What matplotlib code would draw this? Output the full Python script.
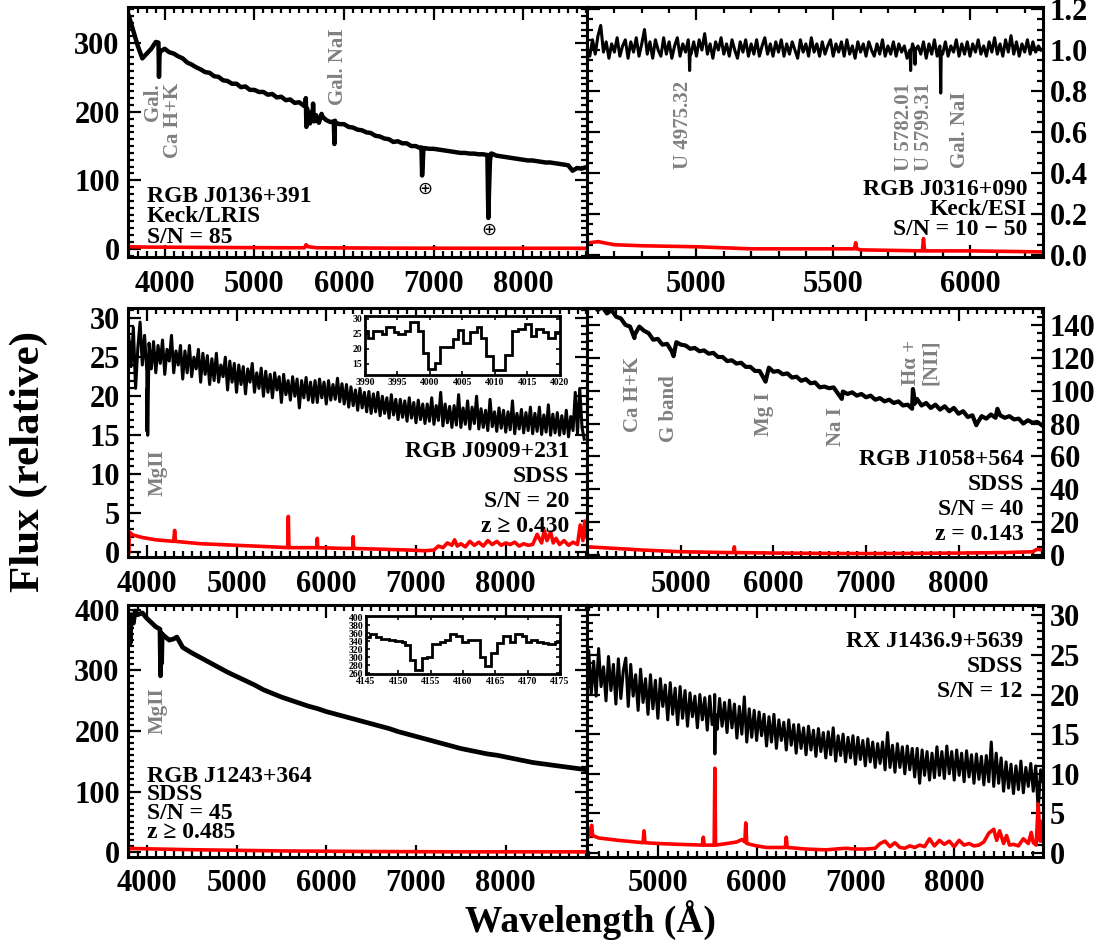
import numpy as np
import matplotlib
matplotlib.use("Agg")
from matplotlib import pyplot as plt
from matplotlib.ticker import MultipleLocator, FixedLocator, FormatStrFormatter

plt.rcParams['font.family'] = ['Liberation Serif', 'DejaVu Sans']
plt.rcParams['font.weight'] = 'bold'
plt.rcParams['font.size'] = 22
plt.rcParams['axes.linewidth'] = 2.2

GRAY = '#808080'

# ---- RGB J0136+391 (Keck/LRIS) ----
a_wave = np.arange(3600, 8701, 50)
a_flux = [340, 318, 296, 278, 285, 292, 302, 288, 292, 287,
          285, 281, 278, 272, 269, 265, 262, 258, 257, 252,
          251, 246, 245, 241, 241, 236, 237, 232, 232, 229,
          229, 225, 226, 221, 222, 217, 218, 213, 214, 209,
          192, 196, 187, 197, 188, 185, 187, 182, 182, 178,
          177, 174, 173, 170, 169, 165, 164, 161, 160, 156,
          157, 154, 154, 150, 150, 147, 147, 146, 146, 145,
          144, 143, 142, 141, 140, 140, 139, 139, 138, 138,
          137, 139, 136, 135, 134, 133, 132, 131, 130, 129,
          129, 128, 127, 126, 126, 125, 124, 123, 122, 114,
          118, 117, 119]
a_feat_wave = [3930, 3936, 3942, 5568, 5574, 5580, 5588, 5620, 5640, 5655, 5665,
               5690, 5720, 5760, 5886, 5893, 5900, 6864, 6871, 6878, 6886,
               7592, 7603, 7610, 7618, 7628, 7640]
a_feat_flux = [301, 251, 282, 210, 220, 178, 205, 183, 200, 212, 186,
               195, 184, 193, 186, 153, 184, 148, 107, 122, 147,
               137, 105, 45, 85, 128, 139]
a_err_wave = [3600, 3800, 4500, 5400, 5560, 5577, 5600, 5700, 6500, 7500, 8700]
a_err_flux = [3, 2.5, 2, 1.5, 1.5, 6, 3, 1.5, 1, 0.8, 0.8]

# ---- RGB J0316+090 (Keck/ESI) ----
b_wave = np.arange(4600, 6261, 10)
b_flux = [1.01, 0.97, 1.05, 0.98, 1.07, 1.12, 0.99, 1.04, 0.96, 1.03,
          0.99, 1.06, 0.97, 1.02, 1.05, 0.96, 1.04, 0.99, 1.06, 0.97,
          1.03, 1.10, 0.98, 1.04, 0.96, 1.05, 1.00, 0.97, 1.06, 0.98,
          1.04, 0.96, 1.02, 1.06, 0.97, 1.03, 0.99, 1.05, 0.98, 1.04,
          0.97, 1.05, 1.00, 1.08, 0.98, 1.03, 0.96, 1.04, 1.00, 1.06,
          0.98, 1.03, 0.97, 1.05, 1.00, 0.96, 1.04, 0.99, 1.05, 0.97,
          1.03, 0.98, 1.05, 0.97, 1.02, 1.06, 0.98, 1.03, 0.97, 1.04,
          0.99, 1.05, 0.97, 1.03, 0.98, 1.04, 1.00, 0.96, 1.05, 0.99,
          1.03, 0.97, 1.06, 0.99, 1.03, 0.97, 1.04, 0.98, 1.02, 1.05,
          0.97, 1.03, 0.99, 1.04, 0.97, 1.05, 0.98, 1.02, 0.96, 1.04,
          0.99, 1.03, 0.97, 1.04, 1.00, 0.97, 1.03, 0.98, 1.05, 0.97,
          1.02, 0.98, 1.04, 0.97, 1.03, 0.99, 1.02, 0.96, 1.00, 1.03,
          0.97, 1.02, 0.98, 1.04, 0.96, 1.03, 0.98, 1.05, 0.97, 1.02,
          0.98, 1.04, 0.97, 1.02, 0.99, 1.05, 0.97, 1.03, 0.98, 1.04,
          0.97, 1.03, 0.99, 1.05, 0.98, 1.02, 0.97, 1.04, 0.99, 1.06,
          0.98, 1.03, 0.97, 1.05, 0.99, 1.07, 0.98, 1.04, 0.97, 1.03,
          0.99, 1.05, 0.98, 1.04, 0.99, 1.02, 1.00]
b_feat_wave = [4973, 4975, 4977, 5781, 5783, 5785, 5797, 5799, 5801, 5891, 5893, 5895]
b_feat_flux = [1.00, 0.90, 0.99, 1.00, 0.90, 0.99, 1.00, 0.93, 1.00, 0.99, 0.79, 0.99]
b_err_wave = [4610, 4640, 4660, 4700, 4800, 5000, 5200, 5400, 5578, 5582, 5586,
              5600, 5826, 5830, 5834, 6000, 6267]
b_err_flux = [0.06, 0.065, 0.06, 0.05, 0.045, 0.04, 0.03, 0.03, 0.03, 0.06, 0.03,
              0.025, 0.02, 0.08, 0.02, 0.02, 0.015]

# ---- RGB J0909+231 (SDSS) ----
c_wave = np.arange(3800, 8876, 25)
c_flux = [27.5, 23.8, 28.8, 21.0, 26.2, 29.5, 24.0, 27.8, 23.2, 26.8, 23.5, 27.0,
          23.0, 26.5, 24.2, 27.2, 22.8, 26.0, 24.5, 27.8, 23.0, 25.8, 24.0, 26.5,
          22.2, 25.8, 23.0, 26.5, 22.5, 25.0, 23.5, 26.0, 21.8, 25.5, 22.8, 25.2,
          21.5, 24.8, 22.0, 25.5, 21.8, 24.0, 22.5, 25.0, 20.8, 24.5, 21.8, 24.2,
          20.5, 24.0, 21.5, 23.8, 20.3, 23.5, 21.8, 24.2, 20.5, 23.0, 21.0, 23.6,
          20.0, 23.2, 20.5, 22.8, 19.8, 23.0, 20.8, 22.5, 19.2, 22.8, 20.2, 22.0,
          19.5, 22.5, 20.0, 22.2, 18.5, 22.0, 19.8, 22.4, 19.5, 21.8, 19.2, 22.0,
          19.2, 22.2, 19.8, 21.8, 19.0, 22.0, 19.5, 21.5, 19.6, 22.3, 19.3, 21.6,
          19.0, 21.5, 18.6, 21.2, 18.8, 20.8, 18.2, 21.0, 18.5, 20.5, 18.0, 20.6,
          17.8, 20.3, 18.0, 20.5, 17.5, 20.0, 17.8, 19.8, 17.2, 20.2, 17.6, 19.6,
          17.0, 19.6, 17.3, 19.4, 16.8, 19.8, 17.2, 19.2, 16.6, 19.5, 17.0, 19.0,
          16.5, 19.0, 16.8, 19.8, 16.4, 18.8, 16.9, 20.5, 16.2, 19.0, 16.6, 18.7,
          16.0, 18.8, 16.3, 20.2, 16.0, 18.5, 16.4, 19.4, 15.8, 18.6, 16.5, 20.0,
          15.8, 18.4, 16.0, 18.2, 15.6, 19.6, 16.1, 18.0, 15.5, 18.5, 15.9, 18.2,
          15.4, 18.0, 15.7, 19.4, 15.2, 17.8, 15.8, 18.3, 15.3, 17.9, 15.6, 18.6,
          15.2, 17.8, 15.5, 18.6, 15.1, 17.6, 15.4, 18.9, 15.0, 17.7, 15.3, 17.9,
          15.0, 17.5, 15.2, 18.2, 14.8, 17.4, 15.6, 20.5, 15.2, 21.0, 16.0, 14.5]
c_feat_wave = [4002, 4006, 4010]
c_feat_flux = [15.5, 21.0, 15.0]
c_err_wave = [3800, 3805, 3850, 3950, 4100, 4300, 4310, 4320, 4600, 5000,
              5400, 5570, 5577, 5584, 5800, 5895, 5900, 5905, 6200, 6295,
              6300, 6305, 6600, 6900, 7100, 7200, 7250, 7300, 7350, 7400,
              7430, 7460, 7500, 7550, 7600, 7650, 7700, 7750, 7800, 7850,
              7900, 7950, 8000, 8050, 8100, 8150, 8200, 8250, 8300, 8350,
              8400, 8430, 8460, 8500, 8530, 8560, 8600, 8650, 8700, 8750,
              8800, 8830, 8860, 8880, 8900]
c_err_flux = [0, 2.6, 2.2, 1.9, 1.6, 1.4, 2.8, 1.4, 1.1, 0.9,
              0.7, 0.6, 4.6, 0.6, 0.6, 0.6, 1.8, 0.6, 0.5, 0.5,
              2.0, 0.5, 0.4, 0.3, 0.2, 0.3, 0.8, 0.6, 1.2, 0.9,
              1.6, 0.8, 1.1, 0.7, 1.4, 0.9, 1.3, 0.8, 1.5, 1.0,
              1.4, 0.9, 1.2, 1.0, 1.3, 0.8, 1.1, 0.9, 1.0, 2.3,
              1.2, 2.8, 1.5, 2.6, 1.2, 1.8, 1.0, 1.5, 0.9, 1.3,
              1.0, 3.5, 1.5, 4.0, 2.0]
# inset: MgII doublet
c_ins_edges = [3990.0, 3990.5, 3991.3, 3992.6, 3993.3, 3994.4, 3995.1, 3996.2, 3997.0,
               3998.1, 3998.9, 3999.7, 4000.8, 4001.5, 4002.6, 4003.6, 4004.4, 4005.1,
               4006.2, 4007.2, 4007.9, 4008.7, 4009.7, 4010.7, 4011.5, 4012.6, 4013.6,
               4014.6, 4015.6, 4016.4, 4017.4, 4018.2, 4019.2, 4020.0]
c_ins_flux = [25.9, 23.6, 25.9, 25.1, 27.3, 25.5, 25.1, 25.9, 29.0, 25.9, 18.8,
              13.2, 15.4, 20.6, 20.8, 23.3, 26.2, 21.9, 25.5, 27.3, 23.6, 17.7,
              13.0, 13.0, 18.0, 25.9, 26.6, 28.4, 24.4, 26.6, 25.5, 23.8, 25.5]

# ---- RGB J1058+564 (SDSS) ----
d_wave = np.arange(4000, 8901, 50)
d_flux = [151, 153, 149, 151, 147, 149, 145, 144, 140, 139,
          134, 139, 136.5, 135, 131, 131.5, 128, 128.5, 124, 129.5,
          128, 127.5, 125.5, 126, 124, 124.5, 122.5, 123, 120.5, 120.5,
          118, 118.5, 116.5, 117, 114.5, 114.5, 112, 112, 107, 114,
          111.5, 112, 110, 110.5, 108, 108.5, 106, 107, 104.5, 105,
          102, 102.5, 101.5, 102, 98, 99.5, 98, 99, 97, 98,
          96, 97, 94.5, 95.5, 93.5, 94.5, 92.5, 93.5, 91, 91.5,
          92, 95, 91, 92.5, 89.5, 91.5, 88.5, 90.5, 87.5, 89.5,
          86, 87.5, 84, 85, 80, 84.5, 83, 85.5, 83.5, 85,
          83.5, 84.5, 82.5, 83, 80, 82, 80.5, 81, 79]
d_feat_wave = [4497, 4920, 5914, 6738, 7498, 7507, 7516, 7526, 8192, 8420]
d_feat_flux = [132, 121, 105.5, 95, 89, 101, 98, 92, 79, 89]
d_err_wave = [3985, 4300, 4600, 5000, 5500, 5570, 5577, 5584, 6000, 6500, 7000,
              7500, 8000, 8500, 8800, 8850, 8913]
d_err_flux = [5, 4, 3, 2, 1.5, 1.5, 5, 1.5, 1.2, 1.0, 0.9, 1.0, 1.2, 1.5, 2.0, 3.5, 3.0]

# ---- RGB J1243+364 (SDSS) ----
e_wave = np.arange(3800, 8901, 100)
e_flux = [382, 392, 386, 372, 356, 352, 338, 329, 321, 313,
          305, 297, 290, 283, 276, 268, 262, 256, 251, 246,
          241, 237, 232, 228, 224, 220, 216, 212, 208, 204,
          199, 195, 191, 187, 183, 179, 175, 171, 168, 165,
          162, 160, 157, 154, 151, 148, 146, 144, 142, 140,
          138, 136]
e_feat_wave = [3815, 3825, 3850, 3870, 3950, 4147, 4153, 4159, 4165, 4171, 4250, 4335]
e_feat_flux = [345, 392, 378, 398, 395, 368, 291, 362, 312, 360, 350, 355]
e_err_wave = [3795, 3800, 3830, 4500, 5500, 6500, 7500, 8905]
e_err_flux = [0, 8, 6, 4, 2, 1, 0.5, 0.5]
# inset: MgII doublet
e_ins_edges = [4145.0, 4145.6, 4146.6, 4147.4, 4148.5, 4149.5, 4150.5, 4151.0, 4151.8,
               4152.6, 4153.6, 4154.4, 4155.2, 4156.4, 4157.2, 4158.0, 4159.0, 4159.8,
               4160.8, 4161.6, 4162.6, 4163.4, 4164.4, 4165.2, 4166.2, 4167.3, 4168.0,
               4169.1, 4169.8, 4170.6, 4171.4, 4172.4, 4173.2, 4174.2, 4175.0]
e_ins_flux = [350, 358, 350, 346, 342, 340, 338, 330, 293, 268, 298, 300, 334, 338,
              344, 358, 352, 339, 342, 342, 300, 278, 310, 336, 354, 338, 358, 352,
              339, 344, 338, 335, 332, 338]

# ---- RX J1436.9+5639 (SDSS) ----
f_wave = np.arange(4300, 8901, 25)
f_flux = [25.5, 20.0, 24.2, 19.8, 25.8, 21.0, 23.5, 19.2, 24.8, 20.5, 23.8, 18.8,
          24.5, 19.5, 23.0, 24.6, 18.5, 23.8, 19.8, 22.5, 18.0, 23.2, 19.0, 22.0,
          17.5, 22.5, 18.2, 21.8, 17.0, 22.0, 18.5, 21.2, 16.8, 21.5, 17.5, 20.8,
          16.2, 21.0, 17.0, 20.5, 16.0, 20.2, 17.2, 19.8, 15.8, 20.0, 16.8, 19.6,
          15.5, 19.8, 16.2, 20.0, 15.6, 19.5, 16.0, 19.0, 15.2, 19.3, 15.8, 18.8,
          14.5, 18.5, 15.0, 19.7, 14.0, 18.2, 14.6, 18.0, 14.2, 17.8, 14.8, 17.5,
          13.5, 17.2, 14.0, 17.5, 13.2, 16.8, 14.2, 16.5, 13.0, 16.8, 13.6, 16.2,
          12.6, 16.2, 13.2, 15.8, 12.4, 16.0, 13.0, 15.5, 12.2, 15.7, 12.8, 15.2,
          12.0, 15.3, 12.4, 15.8, 11.6, 14.8, 12.3, 15.0, 11.5, 14.6, 12.0, 14.8,
          11.2, 14.6, 11.8, 14.2, 11.0, 14.4, 11.5, 14.0, 10.8, 13.8, 11.3, 14.0,
          10.5, 15.2, 10.8, 13.6, 10.2, 13.8, 10.8, 13.4, 10.0, 13.5, 10.5, 13.2,
          9.6, 13.2, 8.8, 13.0, 9.8, 12.8, 9.2, 12.6, 9.5, 13.4, 9.8, 12.8,
          9.4, 13.5, 10.0, 12.8, 9.2, 13.0, 9.8, 12.6, 9.0, 12.9, 9.6, 12.4,
          8.8, 12.5, 9.3, 12.2, 8.6, 12.3, 9.0, 14.0, 8.4, 12.6, 8.8, 12.0,
          7.8, 11.5, 8.2, 11.2, 7.5, 11.0, 8.0, 11.6, 7.6, 10.8, 8.4, 11.3,
          7.8, 11.0, 5.5, 10.5, 9.0]
f_feat_wave = [5572, 5577, 5582]
f_feat_flux = [17.0, 12.5, 17.5]
f_err_wave = [4285, 4300, 4330, 4340, 4400, 4600, 4850, 4860, 4870, 5000,
              5200, 5450, 5460, 5470, 5570, 5577, 5584, 5700, 5800, 5850,
              5880, 5890, 5900, 6000, 6100, 6290, 6300, 6310, 6500, 6700,
              6900, 7000, 7100, 7200, 7250, 7300, 7350, 7400, 7450, 7500,
              7550, 7600, 7650, 7700, 7750, 7800, 7850, 7900, 7950, 8000,
              8050, 8100, 8150, 8200, 8250, 8300, 8350, 8400, 8430, 8460,
              8500, 8530, 8560, 8600, 8650, 8700, 8750, 8780, 8800, 8830,
              8850, 8870, 8890, 8900]
f_err_flux = [2.0, 2.0, 3.5, 2.2, 1.9, 1.6, 1.3, 2.8, 1.3, 1.2,
              1.1, 1.0, 2.0, 1.0, 1.0, 10.7, 1.0, 1.2, 1.4, 1.7,
              1.4, 3.8, 1.2, 0.9, 0.7, 0.7, 2.0, 0.7, 0.5, 0.4,
              0.6, 0.5, 0.5, 0.6, 1.2, 1.5, 0.8, 1.3, 0.7, 0.6,
              0.9, 0.7, 1.0, 0.8, 1.8, 0.9, 1.6, 1.1, 1.5, 0.8,
              1.6, 1.0, 1.2, 0.9, 1.0, 1.4, 2.5, 3.0, 1.6, 2.8,
              1.2, 2.2, 1.0, 1.1, 0.9, 1.8, 1.2, 2.6, 1.3, 1.0,
              6.2, 1.5, 4.0, 1.5]


def merge(w1, f1, w2, f2):
    w = np.concatenate([np.asarray(w1, float), np.asarray(w2, float)])
    f = np.concatenate([np.asarray(f1, float), np.asarray(f2, float)])
    o = np.argsort(w, kind='stable')
    return w[o], f[o]


def style(ax, xlim, ylim, xmaj, xmin, ymaj, ymin, side, xticks=None):
    ax.set_xlim(xlim)
    ax.set_ylim(ylim)
    if xticks is not None:
        ax.xaxis.set_major_locator(FixedLocator(xticks))
    else:
        ax.xaxis.set_major_locator(MultipleLocator(xmaj))
    ax.xaxis.set_minor_locator(MultipleLocator(xmin))
    ax.yaxis.set_major_locator(MultipleLocator(ymaj))
    ax.yaxis.set_minor_locator(MultipleLocator(ymin))
    ax.tick_params(which='both', direction='in', top=True, right=True, width=1.6)
    ax.tick_params(which='major', length=9)
    ax.tick_params(which='minor', length=4.5)
    ax.tick_params(axis='x', pad=9)
    if side == 'left':
        ax.tick_params(axis='y', labelleft=True, labelright=False, pad=6)
    else:
        ax.tick_params(axis='y', labelleft=False, labelright=True, pad=5)


def spectrum(ax, w, f, ew, ef, lw=2.4):
    ax.plot(w, f, color='k', lw=lw)
    ax.plot(ew, ef, color='#ff0000', lw=2.6)


def block(ax, x, ys, lines, ha):
    for y, s in zip(ys, lines):
        ax.text(x, y, s, transform=ax.transAxes, ha=ha, va='baseline', fontsize=17)


def tag(ax, x, y, s, va='top', ma='center'):
    ax.text(x, y, s, rotation=90, ha='center', va=va, color=GRAY, fontsize=15,
            multialignment=ma, linespacing=1.0)


fig = plt.figure(figsize=(11.07, 9.46), dpi=100)
L, WL = 0.1156, 0.4146
R, WR = 0.5303, 0.4119
axA = fig.add_axes([L, 0.7283, WL, 0.2643])
axB = fig.add_axes([R, 0.7283, WR, 0.2643])
axC = fig.add_axes([L, 0.4112, WL, 0.2632])
axD = fig.add_axes([R, 0.4112, WR, 0.2632])
axE = fig.add_axes([L, 0.0941, WL, 0.2664])
axF = fig.add_axes([R, 0.0941, WR, 0.2664])

# A
w, f = merge(a_wave, a_flux, a_feat_wave, a_feat_flux)
spectrum(axA, w, f, a_err_wave, a_err_flux, lw=3.2)
style(axA, (3590, 8710), (-12, 353), 1000, 100, 100, 10, 'left')
tag(axA, 3985, 242, 'Gal.\nCa H+K', ma='right')
tag(axA, 5936, 322, 'Gal. NaI')
axA.text(6908, 88, '\u2295', family='DejaVu Sans', fontsize=13, fontweight='normal',
         ha='center', va='center')
axA.text(7612, 28, '\u2295', family='DejaVu Sans', fontsize=13, fontweight='normal',
         ha='center', va='center')
block(axA, 0.041, [0.22, 0.14, 0.056], ['RGB J0136+391', 'Keck/LRIS', 'S/N = 85'], 'left')

# B
w, f = merge(b_wave, b_flux, b_feat_wave, b_feat_flux)
spectrum(axB, w, f, b_err_wave, b_err_flux, lw=2.2)
style(axB, (4600, 6267), (-0.01, 1.21), 500, 100, 0.2, 0.05, 'right')
axB.yaxis.set_major_formatter(FormatStrFormatter('%.1f'))
tag(axB, 4951, 0.85, 'U 4975.32')
tag(axB, 5796, 0.84, 'U 5782.01\nU 5799.31')
tag(axB, 5964, 0.80, 'Gal. NaI')
block(axB, 0.965, [0.248, 0.168, 0.088], ['RGB J0316+090', 'Keck/ESI', 'S/N = 10 \u2212 50'], 'right')

# C
w, f = merge(c_wave, c_flux, c_feat_wave, c_feat_flux)
spectrum(axC, w, f, c_err_wave, c_err_flux, lw=2.2)
style(axC, (3790, 8905), (-0.6, 31.3), 1000, 100, 5, 1, 'left')
tag(axC, 4120, 13.2, 'MgII')
block(axC, 0.961, [0.402, 0.301, 0.201, 0.100],
      ['RGB J0909+231', 'SDSS', 'S/N = 20', 'z \u2265 0.430'], 'right')

# D
w, f = merge(d_wave, d_flux, d_feat_wave, d_feat_flux)
spectrum(axD, w, f, d_err_wave, d_err_flux, lw=3.0)
style(axD, (3985, 8913), (-1.2, 150.3), 1000, 100, 20, 5, 'right',
      xticks=[5000, 6000, 7000, 8000])
tag(axD, 4482, 120.5, 'Ca H+K')
tag(axD, 4871, 109.5, 'G band')
tag(axD, 5898, 99.2, 'Mg I')
tag(axD, 6676, 90, 'Na I')
tag(axD, 7595, 103.5, 'H\u03b1 +\n[NII]', va='bottom', ma='left')
block(axD, 0.958, [0.369, 0.269, 0.169, 0.068],
      ['RGB J1058+564', 'SDSS', 'S/N = 40', 'z = 0.143'], 'right')

# E
w, f = merge(e_wave, e_flux, e_feat_wave, e_feat_flux)
spectrum(axE, w, f, e_err_wave, e_err_flux, lw=3.4)
style(axE, (3790, 8905), (-8, 408), 1000, 100, 100, 10, 'left')
tag(axE, 4125, 272, 'MgII')
block(axE, 0.041, [0.298, 0.226, 0.151, 0.075],
      ['RGB J1243+364', 'SDSS', 'S/N = 45', 'z \u2265 0.485'], 'left')

# F
w, f = merge(f_wave, f_flux, f_feat_wave, f_feat_flux)
spectrum(axF, w, f, f_err_wave, f_err_flux, lw=2.2)
style(axF, (4283, 8899), (-0.5, 31.3), 1000, 100, 5, 1, 'right',
      xticks=[5000, 6000, 7000, 8000])
block(axF, 0.956, [0.833, 0.734, 0.635], ['RX J1436.9+5639', 'SDSS', 'S/N = 12'], 'right')


def inset(rect, edges, vals, xlim, ylim, xstep, yticks):
    ax = fig.add_axes(rect)
    ax.stairs(vals, edges, color='k', lw=2.0, baseline=None)
    ax.set_xlim(xlim)
    ax.set_ylim(ylim)
    ax.xaxis.set_major_locator(MultipleLocator(xstep))
    ax.yaxis.set_major_locator(FixedLocator(yticks))
    ax.tick_params(which='both', direction='in', top=True, right=True,
                   labelsize=7, length=3, width=1.2, pad=2)
    for sp in ax.spines.values():
        sp.set_linewidth(2.0)
    return ax


inset([0.3297, 0.6036, 0.1760, 0.0624], c_ins_edges, c_ins_flux,
      (3990, 4020), (11.3, 31), 5, [15, 20, 25, 30])
inset([0.3306, 0.2875, 0.1752, 0.0613], e_ins_edges, e_ins_flux,
      (4145, 4175), (258, 403), 5, [260, 280, 300, 320, 340, 360, 380, 400])

fig.text(0.026, 0.512, 'Flux (relative)', rotation=90, ha='center', va='center', fontsize=31)
fig.text(0.533, 0.027, 'Wavelength (\u00c5)', ha='center', va='center', fontsize=27)

fig.savefig('out.png', dpi=100)
